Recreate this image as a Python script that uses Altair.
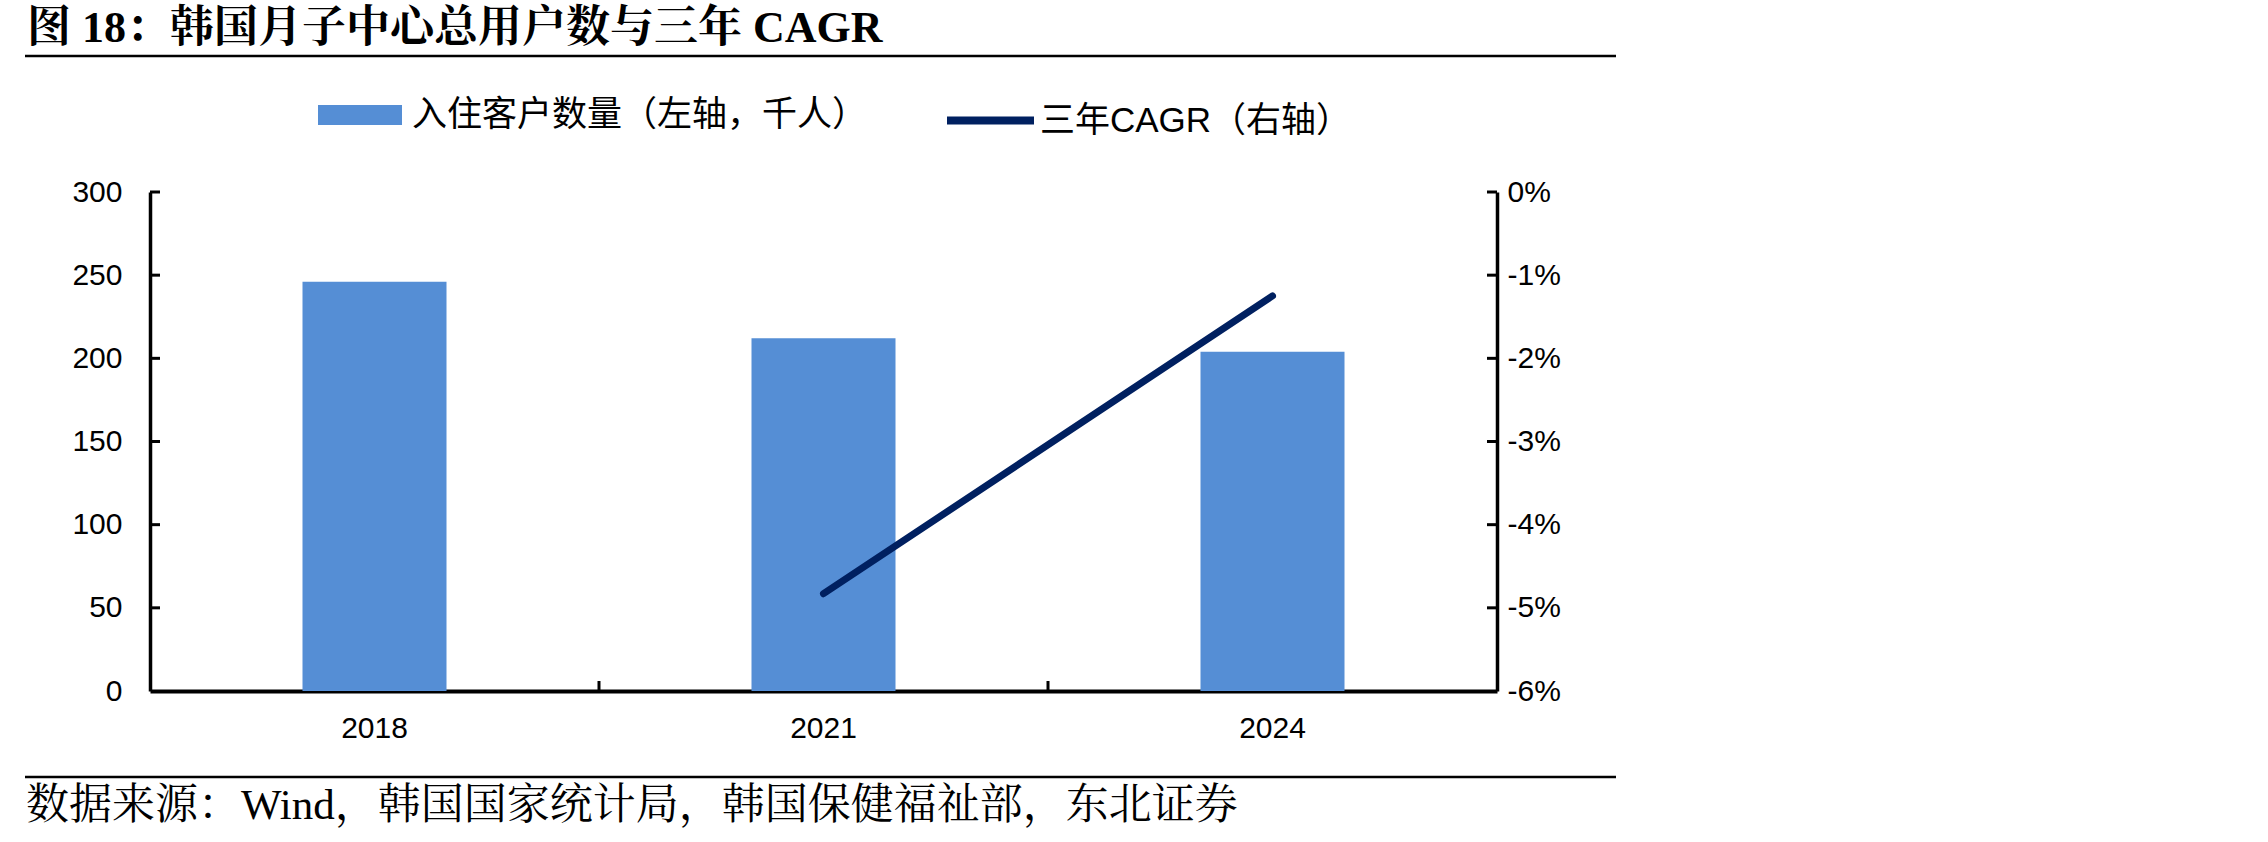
import altair as alt
import pandas as pd

# ---- data ----
years = ["2018", "2021", "2024"]
customers = [246, 212, 204]          # 入住客户数量（千人）
cagr_years = ["2021", "2024"]
cagr_pct = [-4.83, -1.25]            # 三年CAGR（%）
left_ticks = [0, 50, 100, 150, 200, 250, 300]
right_ticks = [-6, -5, -4, -3, -2, -1, 0]
inner_ticks = [50, 100, 150, 200, 250, 300]
x_tick_years = ["2021", "2024"]

bar_name = "入住客户数量（左轴，千人）"
line_name = "三年CAGR（右轴）"
title_text = "图 18：韩国月子中心总用户数与三年 CAGR"
source_text = "数据来源：Wind，韩国国家统计局，韩国保健福祉部，东北证券"

W, H = 1347, 499
SANS = "Liberation Sans, Arial, Noto Sans CJK SC"
SERIF = "Liberation Serif, Times New Roman, Noto Serif CJK SC, Noto Sans CJK SC"
BAR_COLOR = "#558ED5"
LINE_COLOR = "#002060"

bars_df = pd.DataFrame({"year": years, "customers": customers, "series": [bar_name] * len(years)})
line_df = pd.DataFrame({"year": cagr_years, "cagr": cagr_pct, "series": [line_name] * len(cagr_years)})
ticks_df = pd.DataFrame({"v": inner_ticks})
xticks_df = pd.DataFrame({"year": x_tick_years})
one = pd.DataFrame({"k": [0]})

x_scale = alt.Scale(domain=years, paddingInner=0, paddingOuter=0)
x_axis = alt.Axis(
    title=None, labelAngle=0, ticks=False, grid=False, domain=True,
    domainColor="black", domainWidth=4, orient="bottom",
    labelFont=SANS, labelFontSize=30, labelColor="black", labelPadding=22,
)

bars = alt.Chart(bars_df).mark_bar(size=144).encode(
    x=alt.X("year:N", sort=years, scale=x_scale, axis=x_axis),
    y=alt.Y(
        "customers:Q",
        scale=alt.Scale(domain=[0, 300], nice=False, zero=True),
        axis=alt.Axis(
            orient="left", title=None, values=left_ticks, ticks=False, grid=False, domain=True,
            domainColor="black", domainWidth=3.5,
            labelFont=SANS, labelFontSize=30, labelColor="black", labelPadding=28,
        ),
    ),
    fill=alt.Fill(
        "series:N",
        scale=alt.Scale(domain=[bar_name], range=[BAR_COLOR]),
        legend=alt.Legend(
            orient="none", legendX=168, legendY=-119, title=None,
            symbolType="M-1,-0.24H1V0.24H-1Z", symbolSize=7056, symbolStrokeWidth=0,
            labelFont=SANS, labelFontSize=35, labelColor="black", labelOffset=10,
            labelLimit=900, padding=0,
        ),
    ),
)

line = alt.Chart(line_df).mark_line(strokeWidth=7, strokeCap="round").encode(
    x=alt.X("year:N", sort=years, scale=x_scale, axis=x_axis),
    y=alt.Y(
        "cagr:Q",
        scale=alt.Scale(domain=[-6, 0], nice=False, zero=False),
        axis=alt.Axis(
            orient="right", title=None, values=right_ticks, ticks=False, grid=False, domain=True,
            domainColor="black", domainWidth=3.5,
            labelFont=SANS, labelFontSize=30, labelColor="black", labelPadding=10,
            labelExpr="(datum.value < 0 ? '-' : '') + format(abs(datum.value), 'd') + '%'",
        ),
    ),
    stroke=alt.Stroke(
        "series:N",
        scale=alt.Scale(domain=[line_name], range=[LINE_COLOR]),
        legend=alt.Legend(
            orient="none", legendX=793, legendY=-119, title=None,
            symbolType="stroke", symbolSize=7569, symbolStrokeWidth=8,
            labelFont=SANS, labelFontSize=35, labelColor="black", labelOffset=2,
            labelLimit=900, padding=0,
        ),
    ),
)

# inward tick marks (axis decoration)
lticks = alt.Chart(ticks_df).mark_rule(color="black", strokeWidth=3).encode(
    y=alt.Y("v:Q", scale=alt.Scale(domain=[0, 300], nice=False), axis=None),
    x=alt.value(0), x2=alt.value(10),
)
rticks = alt.Chart(ticks_df).mark_rule(color="black", strokeWidth=3).encode(
    y=alt.Y("v:Q", scale=alt.Scale(domain=[0, 300], nice=False), axis=None),
    x=alt.value(W - 10), x2=alt.value(W),
)
xticks = alt.Chart(xticks_df).mark_rule(color="black", strokeWidth=3).encode(
    x=alt.X("year:N", sort=years, scale=x_scale, axis=x_axis, bandPosition=0),
    y=alt.value(H - 10), y2=alt.value(H),
)

# title, separators and source
title = alt.Chart(pd.DataFrame({"t": [title_text]})).mark_text(
    font=SERIF, fontSize=44, fontWeight="bold", align="left", baseline="alphabetic", color="black"
).encode(text="t:N", x=alt.value(-123), y=alt.value(-150))

top_rule = alt.Chart(one).mark_rule(color="black", strokeWidth=2.5).encode(
    x=alt.value(-125), x2=alt.value(1466), y=alt.value(-136)
)
bottom_rule = alt.Chart(one).mark_rule(color="black", strokeWidth=2.5).encode(
    x=alt.value(-125), x2=alt.value(1466), y=alt.value(585)
)
source = alt.Chart(pd.DataFrame({"t": [source_text]})).mark_text(
    font=SERIF, fontSize=43, align="left", baseline="alphabetic", color="black"
).encode(text="t:N", x=alt.value(-124), y=alt.value(627))

chart = alt.layer(
    bars, line, lticks, rticks, xticks, title, top_rule, bottom_rule, source
).resolve_scale(
    y="independent"
).properties(
    width=W, height=H,
    autosize=alt.AutoSizeParams(type="none"),
    padding={"left": 150, "top": 192, "right": 2268 - 150 - W, "bottom": 842 - 192 - H},
    background="white",
).configure_view(
    stroke=None
).configure_axis(
    domain=True, domainColor="black"
)

chart.save("out.html", embed_options={"renderer": "svg", "actions": False})
